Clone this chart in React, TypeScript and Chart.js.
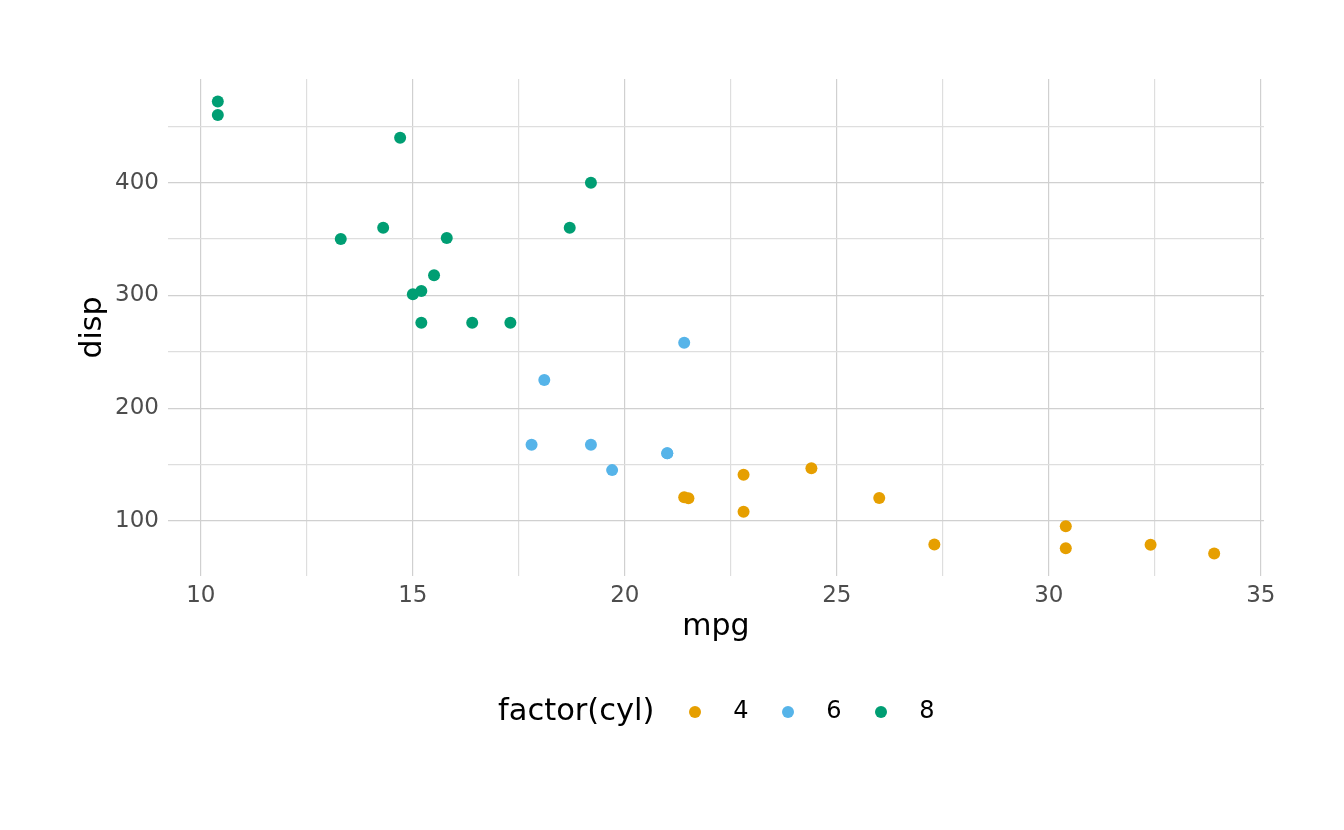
import { useEffect, useRef } from 'react'
import { Chart, registerables } from 'chart.js'

Chart.register(...registerables)

// mtcars: mpg vs disp, grouped by cyl
const mpg4 = [22.8, 24.4, 22.8, 32.4, 30.4, 33.9, 21.5, 27.3, 26.0, 30.4, 21.4]
const disp4 = [108, 146.7, 140.8, 78.7, 75.7, 71.1, 120.1, 79, 120.3, 95.1, 121]
const mpg6 = [21.0, 21.0, 21.4, 18.1, 19.2, 17.8, 19.7]
const disp6 = [160, 160, 258, 225, 167.6, 167.6, 145]
const mpg8 = [18.7, 14.3, 16.4, 17.3, 15.2, 10.4, 10.4, 14.7, 15.5, 15.2, 13.3, 19.2, 15.8, 15.0]
const disp8 = [360, 360, 275.8, 275.8, 275.8, 472, 460, 440, 318, 304, 350, 400, 351, 301]

const groups = ['4', '6', '8']
const colors = ['#E69F00', '#56B4E9', '#009E73']
const xTicks = [10, 12.5, 15, 17.5, 20, 22.5, 25, 27.5, 30, 32.5, 35]
const yTicks = [100, 150, 200, 250, 300, 350, 400, 450]

const FONT = "'DejaVu Sans', sans-serif"
const MAJOR = '#d0d0d0'
const MINOR = '#dedede'

const toPoints = (xs: number[], ys: number[]) => xs.map((x, i) => ({ x, y: ys[i] }))

const legendPlugin = {
  id: 'ggLegend',
  afterDraw(chart: any) {
    const ctx = chart.ctx
    const cy = 712
    ctx.save()
    ctx.textBaseline = 'middle'
    ctx.fillStyle = '#000'
    ctx.font = `30.5px ${FONT}`
    ctx.textAlign = 'left'
    ctx.fillText('factor(cyl)', 498, cy)
    ctx.font = `24px ${FONT}`
    ctx.textAlign = 'center'
    groups.forEach((g, i) => {
      ctx.fillStyle = colors[i]
      ctx.beginPath()
      ctx.arc(695 + 93 * i, cy, 6, 0, Math.PI * 2)
      ctx.fill()
      ctx.fillStyle = '#000'
      ctx.fillText(g, 741 + 93 * i, cy)
    })
    ctx.restore()
  },
}

const App = () => {
  const chartRef = useRef<HTMLCanvasElement>(null)

  useEffect(() => {
    const ctx = chartRef.current!.getContext('2d')!
    const chart = new Chart(ctx, {
      type: 'scatter',
      data: {
        datasets: [
          { label: '4', data: toPoints(mpg4, disp4) },
          { label: '6', data: toPoints(mpg6, disp6) },
          { label: '8', data: toPoints(mpg8, disp8) },
        ].map((d, i) => ({
          ...d,
          backgroundColor: colors[i],
          borderWidth: 0,
          pointRadius: 6,
          pointHoverRadius: 6,
        })),
      },
      options: {
        responsive: false,
        animation: false,
        layout: { padding: { left: 0, right: 80, top: 79, bottom: 154 } },
        plugins: {
          legend: { display: false },
          tooltip: { enabled: false },
        },
        scales: {
          x: {
            type: 'linear',
            min: 9.225,
            max: 35.075,
            afterBuildTicks: (s: any) => { s.ticks = xTicks.map((v) => ({ value: v })) },
            afterFit: (s: any) => { s.height = 100 },
            border: { display: false },
            grid: {
              drawTicks: false,
              color: (c: any) => (c.tick && c.tick.value % 5 === 0 ? MAJOR : MINOR),
              lineWidth: 1.2,
            },
            ticks: {
              autoSkip: false,
              maxRotation: 0,
              padding: 6,
              color: '#4d4d4d',
              font: { family: FONT, size: 23 },
              callback: (v: any) => (Number(v) % 5 === 0 ? String(v) : ''),
            },
            title: {
              display: true,
              text: 'mpg',
              color: '#000',
              font: { family: FONT, size: 30 },
              padding: { top: 0, bottom: 31 },
            },
          },
          y: {
            type: 'linear',
            min: 51.055,
            max: 492.045,
            afterBuildTicks: (s: any) => { s.ticks = yTicks.map((v) => ({ value: v })) },
            afterFit: (s: any) => { s.width = 168 },
            border: { display: false },
            grid: {
              drawTicks: false,
              color: (c: any) => (c.tick && c.tick.value % 100 === 0 ? MAJOR : MINOR),
              lineWidth: 1.2,
            },
            ticks: {
              autoSkip: false,
              padding: 9,
              color: '#4d4d4d',
              font: { family: FONT, size: 23 },
              callback: (v: any) => (Number(v) % 100 === 0 ? String(v) : ''),
            },
            title: {
              display: true,
              text: 'disp',
              color: '#000',
              font: { family: FONT, size: 30 },
              padding: { top: 75, bottom: 0 },
            },
          },
        },
      },
      plugins: [legendPlugin],
    })

    return () => chart.destroy()
  }, [])

  return (
    <div style={{ position: 'fixed', left: 0, top: 0, width: 1344, height: 830, background: '#fff' }}>
      <canvas ref={chartRef} width={1344} height={830}></canvas>
    </div>
  )
}

export default App
